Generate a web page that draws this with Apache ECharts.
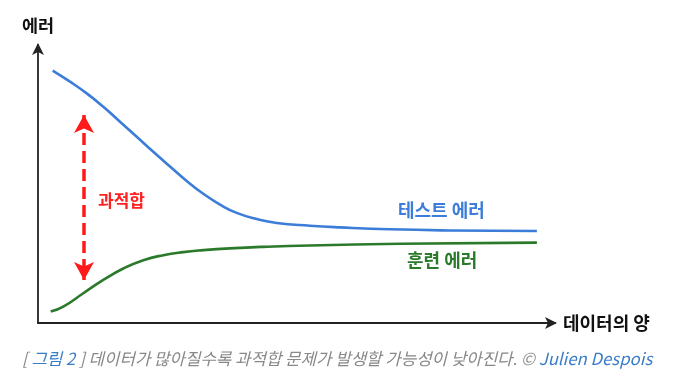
<!DOCTYPE html>
<html>
<head>
<meta charset="utf-8">
<script src="https://cdn.jsdelivr.net/npm/echarts@6/dist/echarts.min.js"></script>
<style>
html,body{margin:0;padding:0;background:#fff;}
#chart{width:673px;height:389px;}
</style>
</head>
<body>
<div id="chart"></div>
<script>
// Data (x: amount of data 0-100, y: error 0-100)
const testX = [2.84, 6.19, 9.42, 12.63, 15.86, 19.09, 22.3, 25.53, 28.76, 31.97, 35.2, 38.43, 42.3, 46.17, 52.6, 58.4, 68.1, 79.7, 96.5];
const testY = [90.8, 86.8, 82.6, 77.8, 72.4, 67.0, 61.6, 56.3, 51.1, 46.5, 42.6, 39.6, 37.4, 36.0, 35.0, 34.4, 33.7, 33.3, 33.1];
const trainX = [2.46, 4.89, 8.76, 12.63, 16.5, 20.37, 24.24, 28.1, 31.97, 37.1, 43.6, 52.6, 70.0, 96.5];
const trainY = [4.1, 5.9, 10.7, 15.5, 19.6, 22.6, 24.4, 25.5, 26.2, 26.85, 27.4, 27.9, 28.5, 28.9];
const gapX = 8.9;
const gapTop = 74.8;
const gapBottom = 15.5;
const yAxisName = '에러';
const xAxisName = '데이터의 양';
const testLabel = '테스트 에러';
const trainLabel = '훈련 에러';
const gapLabel = '과적합';

const zip = (xs, ys) => xs.map((x, i) => [x, ys[i]]);
const FONT = '"Noto Sans CJK KR", "Noto Sans", sans-serif';

const chart = echarts.init(document.getElementById('chart'), null, {renderer: 'canvas'});
chart.setOption({
  animation: false,
  backgroundColor: '#ffffff',
  grid: {left: 38, right: 118, top: 45, bottom: 66, containLabel: false},
  xAxis: {
    type: 'value', min: 0, max: 100,
    name: xAxisName, nameLocation: 'end', nameGap: 8,
    nameTextStyle: {fontFamily: FONT, fontWeight: 'bold', fontSize: 18, color: '#111', verticalAlign: 'middle'},
    axisLine: {show: true, symbol: ['none', 'arrow'], symbolSize: [9, 12], symbolOffset: [0, 2], lineStyle: {color: '#222', width: 1.8}},
    axisTick: {show: false}, axisLabel: {show: false}, splitLine: {show: false}
  },
  yAxis: {
    type: 'value', min: 0, max: 100,
    name: yAxisName, nameLocation: 'end', nameGap: 11,
    nameTextStyle: {fontFamily: FONT, fontWeight: 'bold', fontSize: 17.5, color: '#111', align: 'center'},
    axisLine: {show: true, symbol: ['none', 'arrow'], symbolSize: [9, 12], symbolOffset: [0, 2], lineStyle: {color: '#222', width: 1.8}},
    axisTick: {show: false}, axisLabel: {show: false}, splitLine: {show: false}
  },
  series: [
    {
      name: testLabel, type: 'line', data: zip(testX, testY), smooth: 0.5,
      showSymbol: false, symbol: 'none',
      lineStyle: {color: '#3c7dd9', width: 2.6},
      markLine: {
        silent: true, symbol: ['arrow', 'arrow'], symbolSize: [15, 18],
        label: {show: false},
        lineStyle: {color: '#ff1a1a', width: 3.5, type: [12, 6]},
        data: [[{coord: [gapX, gapTop]}, {coord: [gapX, gapBottom]}]]
      }
    },
    {
      name: trainLabel, type: 'line', data: zip(trainX, trainY), smooth: 0.5,
      showSymbol: false, symbol: 'none',
      lineStyle: {color: '#2b7a2b', width: 2.6}
    }
  ],
  graphic: [
    {type: 'text', left: 98, top: 192, style: {text: gapLabel, font: 'bold 17px ' + FONT, fill: '#ff2020'}},
    {type: 'text', left: 398, top: 201, style: {text: testLabel, font: 'bold 18px ' + FONT, fill: '#3c7dd9'}},
    {type: 'text', left: 407, top: 251, style: {text: trainLabel, font: 'bold 18px ' + FONT, fill: '#2b7a2b'}},
    {
      type: 'text', left: 22, top: 350,
      style: {
        text: '{g|[ }{b|그림 2}{g| ] 데이터가 많아질수록 과적합 문제가 발생할 가능성이 낮아진다. © }{b|Julien Despois}',
        rich: {
          g: {fontFamily: FONT, fontStyle: 'italic', fontSize: 16.8, fill: '#888888'},
          b: {fontFamily: FONT, fontStyle: 'italic', fontSize: 16.8, fill: '#3a7cc8'}
        }
      }
    }
  ]
});
</script>
</body>
</html>
